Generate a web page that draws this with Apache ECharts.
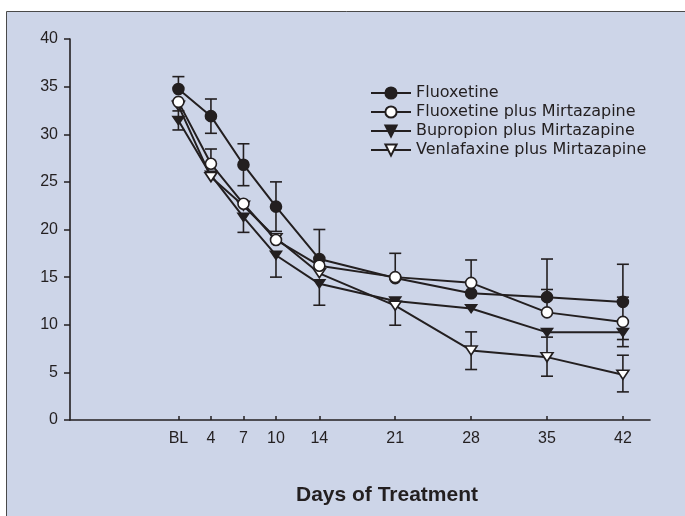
<!DOCTYPE html>
<html>
<head>
<meta charset="utf-8">
<script src="https://cdn.jsdelivr.net/npm/echarts@6/dist/echarts.min.js"></script>
<style>
html,body{margin:0;padding:0;background:#ffffff;}
#chart{width:685px;height:516px;}
</style>
</head>
<body>
<div id="chart"></div>
<script>
// Days (BL plotted just after day 0, as in the figure)
const days = [1, 4, 7, 10, 14, 21, 28, 35, 42];
const dayLabels = ['BL', '4', '7', '10', '14', '21', '28', '35', '42'];

const seriesNames = ['Fluoxetine', 'Fluoxetine plus Mirtazapine', 'Bupropion plus Mirtazapine', 'Venlafaxine plus Mirtazapine'];

// Mean scores
const fluoxetine   = [34.75, 31.9, 26.8, 22.4, 16.9, 14.9, 13.3, 12.9, 12.4];
const fluoxMirt    = [33.4, 26.9, 22.7, 18.9, 16.2, 15.0, 14.4, 11.3, 10.3];
const bupropMirt   = [31.45, 25.7, 21.3, 17.3, 14.3, 12.5, 11.7, 9.2, 9.2];
const venlaMirt    = [33.0, 25.5, 22.5, 19.1, 15.4, 12.0, 7.3, 6.6, 4.75];

// Visible error bars (upper / lower extent), null where not drawn
const fluoxetineUp = [1.3, 1.8, 2.2, 2.6, 3.1, null, 3.5, 4.0, 3.95];
const fluoxetineDn = [null, 1.8, 2.2, 2.6, null, null, null, null, null];
const fluoxMirtUp  = [null, 1.55, null, null, null, 2.5, null, 2.4, 2.6];
const fluoxMirtDn  = [null, null, null, null, null, null, null, null, 2.6];
const bupropMirtUp = [1.0, null, null, null, null, null, null, null, null];
const bupropMirtDn = [1.0, null, 1.6, 2.3, 2.25, null, null, null, 0.75];
const venlaMirtUp  = [null, null, null, null, null, null, 1.95, 2.1, 2.05];
const venlaMirtDn  = [null, null, null, null, null, 2.05, 2.0, 2.0, 1.8];

const INK = '#231f20';
const BG = '#cdd5e8';

function pts(vals) { return days.map((d, i) => [d, vals[i]]); }
function errData(vals, up, dn) {
  const out = [];
  days.forEach((d, i) => {
    if (up[i] == null && dn[i] == null) return;
    out.push([d, vals[i], vals[i] - (dn[i] || 0), vals[i] + (up[i] || 0)]);
  });
  return out;
}
function renderErr(params, api) {
  const x = api.value(0), v = api.value(1), lo = api.value(2), hi = api.value(3);
  const pv = api.coord([x, v]);
  const pl = api.coord([x, lo]);
  const ph = api.coord([x, hi]);
  const st = { stroke: INK, lineWidth: 1.6 };
  const hw = 6;
  const ch = [{ type: 'line', shape: { x1: pv[0], y1: ph[1], x2: pv[0], y2: pl[1] }, style: st }];
  if (hi > v) ch.push({ type: 'line', shape: { x1: pv[0] - hw, y1: ph[1], x2: pv[0] + hw, y2: ph[1] }, style: st });
  if (lo < v) ch.push({ type: 'line', shape: { x1: pv[0] - hw, y1: pl[1], x2: pv[0] + hw, y2: pl[1] }, style: st });
  return { type: 'group', children: ch };
}
function errSeries(name, vals, up, dn) {
  return {
    type: 'custom', name: name, z: 1, silent: true,
    renderItem: renderErr,
    encode: { x: 0, y: 1 },
    data: errData(vals, up, dn)
  };
}
const triDown = 'path://M0,0 L12,0 L6,9 Z';

function lineSeries(name, vals, symbol, size, fill, z) {
  return {
    type: 'line', name: name, data: pts(vals), z: z,
    symbol: symbol, symbolSize: size, showSymbol: true,
    lineStyle: { color: INK, width: 2 },
    itemStyle: { color: fill, borderColor: INK, borderWidth: 1.6 },
    emphasis: { disabled: true }
  };
}

const chart = echarts.init(document.getElementById('chart'), null, { renderer: 'canvas' });
chart.setOption({
  animation: false,
  backgroundColor: 'transparent',
  textStyle: { fontFamily: 'Liberation Sans, Arial, sans-serif' },
  graphic: [
    { type: 'rect', z: -10, silent: true,
      shape: { x: 6.5, y: 11.5, width: 720, height: 540 },
      style: { fill: BG, stroke: '#4a4a4a', lineWidth: 1 } },
    { type: 'text', z: 10, silent: true, x: 387, y: 495,
      style: { text: 'Days of Treatment', fill: INK, font: 'bold 21px "Liberation Sans", Arial, sans-serif',
               textAlign: 'center', textVerticalAlign: 'middle' } }
  ],
  grid: { left: 70, right: 35, top: 39, bottom: 96, containLabel: false },
  legend: {
    data: seriesNames,
    orient: 'vertical', left: 365, top: 80,
    itemWidth: 40, itemHeight: 14, itemGap: 3,
    selectedMode: false,
    textStyle: { fontFamily: 'DejaVu Sans', fontSize: 16, color: INK }
  },
  xAxis: {
    type: 'value', min: -9, max: 44.5,
    axisLine: { onZero: false, lineStyle: { color: INK, width: 1.6 } },
    axisTick: { show: true, inside: true, length: 4, customValues: days, lineStyle: { color: INK, width: 1.5 } },
    axisLabel: {
      customValues: days, color: INK, fontSize: 16, margin: 11,
      formatter: function (v) { const i = days.indexOf(v); return i >= 0 ? dayLabels[i] : ''; }
    },
    splitLine: { show: false }
  },
  yAxis: {
    type: 'value', min: 0, max: 40, interval: 5,
    axisLine: { show: true, onZero: false, lineStyle: { color: INK, width: 1.6 } },
    axisTick: { show: true, inside: false, length: 6, lineStyle: { color: INK, width: 1.5 } },
    axisLabel: { color: INK, fontSize: 16, margin: 12 },
    splitLine: { show: false }
  },
  series: [
    errSeries('e1', fluoxetine, fluoxetineUp, fluoxetineDn),
    errSeries('e2', fluoxMirt, fluoxMirtUp, fluoxMirtDn),
    errSeries('e3', bupropMirt, bupropMirtUp, bupropMirtDn),
    errSeries('e4', venlaMirt, venlaMirtUp, venlaMirtDn),
    lineSeries(seriesNames[0], fluoxetine, 'circle', 11, INK, 2),
    lineSeries(seriesNames[2], bupropMirt, triDown, [11, 8], INK, 3),
    lineSeries(seriesNames[3], venlaMirt, triDown, [12, 9], '#ffffff', 4),
    lineSeries(seriesNames[1], fluoxMirt, 'circle', 11, '#ffffff', 5)
  ]
});
</script>
</body>
</html>
